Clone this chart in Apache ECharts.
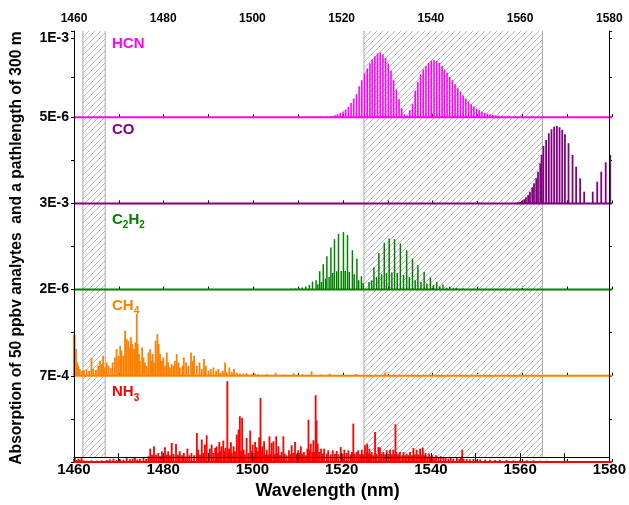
<!DOCTYPE html>
<html><head><meta charset="utf-8">
<script src="https://cdn.jsdelivr.net/npm/echarts@6/dist/echarts.min.js"></script>
<style>html,body{margin:0;padding:0;background:#fff}#c{width:629px;height:505px}</style>
</head><body><div id="c"></div>
<script>
// ---------------- data ----------------
const xTicks = [1460, 1480, 1500, 1520, 1540, 1560, 1580];
const hatchRanges = [[1462, 1467], [1525, 1565]];
const yTickLabels = [
  {'0': '5E-6', '1': '1E-3'},
  {'0': '3E-3'},
  {'0': '2E-6'},
  {'0': '7E-4'},
  {}
];
const hcnLines = [[1512.0,0.006],[1513.5,0.008],[1515.0,0.010],[1516.5,0.012],[1517.6,0.013],[1518.2,0.025],[1518.8,0.038],[1519.4,0.055],[1520.0,0.072],[1520.6,0.097],[1521.2,0.131],[1521.8,0.181],[1522.4,0.236],[1523.0,0.291],[1523.6,0.392],[1524.2,0.468],[1524.8,0.553],[1525.4,0.616],[1526.0,0.679],[1526.5,0.730],[1527.1,0.772],[1527.7,0.806],[1528.3,0.819],[1528.9,0.797],[1529.5,0.747],[1530.1,0.679],[1530.7,0.586],[1531.3,0.468],[1531.9,0.350],[1532.5,0.228],[1533.1,0.110],[1533.7,0.038],
 [1534.3,0.021],[1534.9,0.089],[1535.5,0.165],[1536.1,0.333],[1536.7,0.447],[1537.3,0.544],[1537.9,0.603],[1538.5,0.646],[1539.1,0.688],[1539.7,0.713],[1540.3,0.722],[1540.9,0.713],[1541.5,0.688],[1542.1,0.646],[1542.6,0.603],[1543.2,0.561],[1543.8,0.511],[1544.4,0.468],[1545.0,0.418],[1545.6,0.367],[1546.2,0.321],[1546.8,0.274],[1547.4,0.232],[1548.0,0.198],[1548.6,0.165],[1549.2,0.135],[1549.8,0.110],[1550.4,0.089],[1551.0,0.072],[1551.6,0.055],[1552.2,0.046],[1552.8,0.038],[1553.4,0.030],[1554.0,0.021],[1554.6,0.017]];
const coLines = [[1558.6,0.008],[1559.0,0.012],[1559.5,0.019],[1559.9,0.031],[1560.4,0.047],[1560.8,0.070],[1561.3,0.097],[1561.7,0.136],[1562.2,0.186],[1562.6,0.233],[1563.1,0.291],[1563.5,0.368],[1564.0,0.465],[1564.3,0.562],[1564.7,0.667],[1565.3,0.736],[1565.9,0.814],[1566.5,0.860],[1567.1,0.891],[1567.7,0.899],[1568.3,0.884],[1568.9,0.853],[1569.5,0.802],[1570.3,0.698],[1571.2,0.562],[1572.0,0.426],[1572.9,0.291],[1573.8,0.136],[1575.7,0.136],[1576.7,0.252],[1577.6,0.368],[1578.6,0.477],[1579.6,0.562]];
const c2h2Lines = [[1506.5,0.006],[1507.5,0.008],[1508.5,0.010],[1509.4,0.012],[1510.2,0.016],[1510.9,0.023],[1511.7,0.035],[1512.5,0.054],[1513.2,0.093],[1514.0,0.109],[1514.8,0.213],[1515.6,0.295],[1516.4,0.388],[1517.3,0.488],[1518.1,0.585],[1519.0,0.647],[1520.1,0.667],[1521.0,0.632],[1522.1,0.457],[1523.1,0.360],[1524.1,0.155],
 [1525.8,0.089],[1526.9,0.256],[1528.0,0.426],[1529.2,0.543],[1530.3,0.593],[1531.5,0.585],[1532.8,0.535],[1534.2,0.457],[1535.5,0.360],[1536.7,0.283],[1538.1,0.205],[1539.5,0.140],[1540.9,0.089],[1542.3,0.058],[1543.8,0.035],[1545.3,0.019],[1546.8,0.012],
 [1514.4,0.062],[1515.2,0.089],[1516.1,0.128],[1516.9,0.147],[1517.7,0.194],[1518.6,0.213],[1519.6,0.217],[1520.5,0.217],[1521.4,0.205],[1522.5,0.178],[1523.5,0.109],[1524.5,0.078],
 [1526.4,0.109],[1527.5,0.147],[1528.6,0.178],[1529.7,0.194],[1530.9,0.198],[1532.1,0.194],[1533.5,0.167],[1534.8,0.147],[1536.1,0.109],[1537.4,0.089],[1538.7,0.070],[1540.2,0.050],[1541.6,0.039],[1543.1,0.023],[1544.6,0.016],[1548.7,0.008],[1550.2,0.008]];
const ch4Spectrum = [[1460.0,0.48],[1460.15,0.48],[1460.45,0.31],[1460.75,0.155],[1461.0,0.116],[1461.3,0.078],[1461.8,0.058],[1462.2,0.066],[1462.8,0.074],[1463.4,0.058],[1463.9,0.21],[1464.3,0.078],[1464.9,0.066],[1465.4,0.116],[1465.8,0.174],[1466.2,0.136],[1466.5,0.233],[1466.9,0.097],[1467.3,0.155],[1467.7,0.116],[1468.2,0.089],[1468.6,0.155],[1469.1,0.213],[1469.5,0.31],[1469.9,0.233],[1470.3,0.349],[1470.6,0.291],[1471.0,0.233],[1471.4,0.523],[1471.75,0.426],[1472.1,0.407],[1472.5,0.329],[1472.7,0.446],[1473.0,0.368],[1473.4,0.31],[1473.7,0.388],[1474.0,0.717],[1474.2,0.368],[1474.5,0.252],[1474.7,0.174],[1475.2,0.329],[1475.5,0.213],[1475.8,0.155],[1476.2,0.116],[1476.6,0.271],[1477.0,0.31],[1477.2,0.174],[1477.55,0.252],[1477.85,0.155],[1478.2,0.407],[1478.6,0.484],[1478.9,0.368],[1479.2,0.252],[1479.6,0.174],[1479.9,0.213],[1480.3,0.116],[1480.7,0.271],[1481.0,0.155],[1481.4,0.097],[1481.8,0.136],[1482.2,0.116],[1482.5,0.174],[1482.9,0.252],[1483.3,0.155],[1483.6,0.097],[1484.2,0.116],[1484.5,0.213],[1485.0,0.155],[1485.5,0.116],[1486.1,0.271],[1486.5,0.174],[1486.8,0.233],[1487.4,0.116],[1488.0,0.155],[1488.5,0.078],[1489.0,0.194],[1489.4,0.116],[1490.0,0.058],[1490.5,0.078],[1491.1,0.097],[1491.7,0.058],[1492.2,0.078],[1492.7,0.039],[1493.2,0.058],[1493.7,0.155],[1494.1,0.039],[1494.65,0.097],[1495.2,0.047],[1495.7,0.078],[1496.3,0.039],[1497.0,0.027],[1497.8,0.027],[1498.5,0.031],[1499.6,0.019],[1500.4,0.027],[1501.1,0.019],
 [1503.0,0.02],[1505.0,0.035],[1507.0,0.015],[1509.0,0.03],[1511.0,0.02],[1513.0,0.05],[1515.0,0.015],[1517.0,0.025],[1520.0,0.012],[1523.0,0.02],[1526.0,0.01],[1529.4,0.04],[1532.0,0.01],[1540.0,0.012],[1550.0,0.008],[1560.0,0.01],[1570.0,0.008],[1580.0,0.01]];
const nh3Spectrum = [[1460.0,0.039],[1460.2,0.054],[1460.6,0.023],[1461.0,0.039],[1461.3,0.023],[1461.7,0.054],[1462.1,0.019],[1462.8,0.016],[1463.9,0.019],[1465.1,0.016],[1466.2,0.019],[1467.3,0.023],[1468.0,0.031],[1468.8,0.039],[1469.5,0.023],[1470.3,0.031],[1471.0,0.027],[1471.75,0.054],[1472.5,0.031],[1473.1,0.039],[1473.6,0.047],[1474.1,0.027],[1474.7,0.039],[1475.5,0.054],[1476.1,0.035],[1476.6,0.066],[1477.0,0.155],[1477.4,0.085],[1477.85,0.182],[1478.3,0.085],[1478.8,0.105],[1479.2,0.066],[1479.6,0.124],[1479.9,0.078],[1480.3,0.171],[1480.7,0.085],[1481.0,0.124],[1481.4,0.078],[1481.8,0.221],[1482.2,0.093],[1482.75,0.209],[1483.2,0.085],[1483.6,0.124],[1484.1,0.078],[1484.5,0.105],[1484.9,0.066],[1485.3,0.155],[1485.7,0.078],[1486.2,0.105],[1486.8,0.078],[1487.4,0.337],[1487.7,0.143],[1488.1,0.085],[1488.5,0.26],[1488.85,0.105],[1489.2,0.202],[1489.6,0.31],[1490.0,0.105],[1490.3,0.155],[1490.7,0.202],[1491.1,0.105],[1491.5,0.163],[1491.8,0.182],[1492.1,0.105],[1492.4,0.233],[1492.7,0.124],[1492.9,0.182],[1493.3,0.248],[1493.6,0.124],[1493.8,0.163],[1494.2,0.938],[1494.4,0.105],[1494.6,0.155],[1495.0,0.229],[1495.2,0.105],[1495.6,0.182],[1495.9,0.124],[1496.3,0.318],[1496.7,0.376],[1496.9,0.124],[1497.0,0.531],[1497.25,0.124],[1497.5,0.512],[1497.85,0.143],[1498.1,0.085],[1498.5,0.279],[1498.9,0.105],[1499.3,0.364],[1499.6,0.124],[1499.85,0.202],[1500.2,0.105],[1500.4,0.233],[1500.7,0.171],[1501.0,0.124],[1501.3,0.287],[1501.5,0.124],[1501.6,0.744],[1501.9,0.124],[1502.0,0.182],[1502.4,0.24],[1502.7,0.085],[1503.0,0.143],[1503.3,0.085],[1503.6,0.298],[1503.9,0.093],[1504.1,0.221],[1504.5,0.24],[1504.8,0.093],[1505.1,0.298],[1505.4,0.105],[1505.6,0.182],
 [1505.95,0.078],[1506.3,0.116],[1506.7,0.298],[1507.0,0.097],[1507.4,0.078],[1507.95,0.136],[1508.3,0.089],[1508.55,0.194],[1508.9,0.105],[1509.3,0.233],[1509.7,0.097],[1510.0,0.136],[1510.4,0.105],[1510.6,0.182],[1510.9,0.097],[1511.3,0.116],[1511.75,0.078],[1512.05,0.155],[1512.3,0.492],[1512.5,0.136],[1512.8,0.213],[1513.2,0.116],[1513.4,0.252],[1513.7,0.116],[1513.9,0.775],[1514.1,0.484],[1514.35,0.213],[1514.7,0.116],[1515.1,0.155],[1515.5,0.097],[1515.8,0.155],[1516.4,0.097],[1516.7,0.136],[1517.25,0.089],[1517.7,0.136],[1518.2,0.097],[1518.6,0.128],[1519.0,0.089],[1519.5,0.174],[1519.9,0.097],[1520.3,0.143],[1520.8,0.105],[1521.2,0.136],[1521.7,0.089],[1522.0,0.116],[1522.3,0.446],[1522.6,0.097],[1523.05,0.116],[1523.4,0.136],[1523.8,0.089],[1524.2,0.143],[1524.5,0.089],[1524.9,0.194],[1525.3,0.116],[1525.4,0.213],[1525.7,0.097],[1525.9,0.155],[1526.2,0.089],[1526.4,0.116],[1526.8,0.078],[1527.15,0.349],[1527.4,0.097],[1527.9,0.174],[1528.25,0.167],[1528.6,0.097],[1529.0,0.116],[1529.4,0.089],[1529.75,0.136],[1530.1,0.097],[1530.5,0.143],[1530.9,0.089],[1531.2,0.143],[1531.5,0.089],[1531.7,0.438],[1531.9,0.116],[1532.3,0.089],[1532.7,0.116],[1533.2,0.078],[1533.5,0.116],[1533.9,0.078],[1534.2,0.097],[1534.65,0.078],[1534.95,0.116],[1535.4,0.078],[1535.7,0.163],[1536.0,0.089],[1536.4,0.143],[1536.8,0.089],[1537.2,0.155],[1537.5,0.078],[1537.8,0.167],[1538.1,0.078],[1538.4,0.105],[1538.8,0.066],[1539.2,0.097],[1539.55,0.066],[1539.9,0.078],[1540.3,0.058],[1540.75,0.078],[1541.3,0.058],[1541.8,0.066],[1542.4,0.05],[1542.9,0.058],[1543.5,0.039],[1544.0,0.05],[1544.6,0.039],[1545.4,0.047],[1545.95,0.035],[1546.3,0.05],[1546.6,0.143],[1546.9,0.039],[1547.6,0.035],[1548.3,0.031],[1549.1,0.035],[1549.8,0.027],[1550.6,0.031],[1551.7,0.027],[1552.8,0.027],[1553.9,0.023],[1555.0,0.027],[1556.5,0.023],[1558.0,0.019],[1559.5,0.023],[1561.0,0.019],[1562.5,0.019],[1564.0,0.016],[1565.4,0.016],[1567.7,0.012],[1569.9,0.016],[1572.9,0.012],[1575.8,0.012],[1580.0,0.012]];

// ---------------- chart ----------------
const FONT = '"Liberation Sans", Arial, Helvetica, sans-serif';
const X0 = 1460, X1 = 1580;
const LEFT = 74, RIGHT = 17, TOP = 31, PH = 86.2;
const panels = [
  {color: '#FF00FF', data: hcnLines, lw: 1.6, max: 1.09, title: '{a|HCN}'},
  {color: '#800080', data: coLines, lw: 1.8, max: 1, title: '{a|CO}'},
  {color: '#008000', data: c2h2Lines, lw: 1.5, max: 1, title: '{a|C}{s|2}{a|H}{s|2}'},
  {color: '#FF8000', data: ch4Spectrum, lw: 1.8, max: 1, title: '{a|CH}{s|4}'},
  {color: '#FF0000', data: nh3Spectrum, lw: 1.8, max: 1, title: '{a|NH}{s|3}'}
];

function makeHatch() {
  const c = document.createElement('canvas');
  c.width = 6; c.height = 6;
  const g = c.getContext('2d');
  g.strokeStyle = '#bcbcbc'; g.lineWidth = 1;
  g.beginPath();
  g.moveTo(0, 6); g.lineTo(6, 0);
  g.moveTo(-1, 1); g.lineTo(1, -1);
  g.moveTo(5, 7); g.lineTo(7, 5);
  g.stroke();
  return c;
}
const hatchImg = makeHatch();

const grid = [{left: LEFT, right: RIGHT, top: TOP, height: PH * 5}];
const xAxis = [
  {gridIndex: 0, type: 'value', position: 'top', min: X0, max: X1, interval: 10, z: 10,
   axisLine: {show: true, lineStyle: {color: '#000', width: 1}},
   axisTick: {show: true, inside: true, length: 4, lineStyle: {color: '#000'}},
   axisLabel: {formatter: v => (xTicks.includes(v) ? String(v) : ''), fontFamily: FONT, fontWeight: 'bold', fontSize: 12, color: '#000', margin: 6},
   splitLine: {show: false}},
  {gridIndex: 0, type: 'value', position: 'bottom', min: X0, max: X1, interval: 10, z: 10,
   axisLine: {show: true, lineStyle: {color: '#000', width: 1}},
   axisTick: {show: true, inside: true, length: 4, lineStyle: {color: '#000'}},
   axisLabel: {formatter: v => (xTicks.includes(v) ? String(v) : ''), fontFamily: FONT, fontWeight: 'bold', fontSize: 15, color: '#000', margin: 5},
   splitLine: {show: false},
   name: 'Wavelength (nm)', nameLocation: 'middle', nameGap: 24,
   nameTextStyle: {fontFamily: FONT, fontWeight: 'bold', fontSize: 18, color: '#000', padding: [0, 28, 0, 0]}}
];
const yAxis = [
  {gridIndex: 0, type: 'value', position: 'left', min: 0, max: 1, z: 10,
   axisLine: {show: true, lineStyle: {color: '#000', width: 1}}, axisTick: {show: false}, axisLabel: {show: false}, splitLine: {show: false},
   name: 'Absorption of 50 ppbv analytes  and a pathlength of 300 m', nameLocation: 'middle', nameRotate: 90, nameGap: 49,
   nameTextStyle: {fontFamily: FONT, fontWeight: 'bold', fontSize: 15.6, color: '#000', padding: [0, 8, 0, 0]}},
  {gridIndex: 0, type: 'value', position: 'right', min: 0, max: 1, z: 10,
   axisLine: {show: true, lineStyle: {color: '#000', width: 1}}, axisTick: {show: false}, axisLabel: {show: false}, splitLine: {show: false}}
];
const title = [];
const series = [{
  type: 'custom', name: 'hatch', xAxisIndex: 0, yAxisIndex: 0, z: 1, silent: true,
  data: hatchRanges,
  encode: {x: [0, 1]},
  renderItem: function (params, api) {
    const a = api.coord([api.value(0), 1]);
    const b = api.coord([api.value(1), 0]);
    return {type: 'group', children: [
      {type: 'rect', shape: {x: a[0], y: a[1], width: b[0] - a[0], height: b[1] - a[1]}, style: {fill: {image: hatchImg, repeat: 'repeat'}}},
      {type: 'line', shape: {x1: a[0], y1: a[1], x2: a[0], y2: b[1]}, style: {stroke: '#a8a8a8', lineWidth: 1}},
      {type: 'line', shape: {x1: b[0], y1: a[1], x2: b[0], y2: b[1]}, style: {stroke: '#a8a8a8', lineWidth: 1}}
    ]};
  }
}];

panels.forEach((p, i) => {
  const gi = i + 1;
  const top = TOP + PH * i;
  grid.push({left: LEFT, right: RIGHT, top: top, height: PH});
  const xi = xAxis.length;
  xAxis.push({gridIndex: gi, type: 'value', min: X0, max: X1, interval: 10, position: 'bottom',
    axisLine: {show: false}, axisTick: {show: true, inside: true, length: 3, lineStyle: {color: '#000'}},
    axisLabel: {show: false}, splitLine: {show: false}});
  const yi = yAxis.length;
  const labs = yTickLabels[i];
  yAxis.push({gridIndex: gi, type: 'value', position: 'left', min: 0, max: p.max, interval: 0.5,
    axisLine: {show: false}, axisTick: {show: true, length: 3, lineStyle: {color: '#000'}},
    axisLabel: {showMinLabel: true, showMaxLabel: true, formatter: v => labs[String(Math.round(v * 100) / 100)] || '',
      fontFamily: FONT, fontWeight: 'bold', fontSize: 14, color: '#000', margin: 5},
    splitLine: {show: false}});
  yAxis.push({gridIndex: gi, type: 'value', position: 'right', min: 0, max: p.max, interval: 0.5,
    axisLine: {show: false}, axisTick: {show: true, inside: true, length: 3, lineStyle: {color: '#000'}},
    axisLabel: {show: false}, splitLine: {show: false}});

  series.push({
    type: 'custom', xAxisIndex: xi, yAxisIndex: yi, z: 3, silent: true, data: p.data,
    encode: {x: 0, y: 1},
    renderItem: function (params, api) {
      const b = api.coord([api.value(0), 0]);
      const t = api.coord([api.value(0), api.value(1)]);
      return {type: 'line', shape: {x1: b[0], y1: b[1], x2: t[0], y2: t[1]}, style: {stroke: p.color, lineWidth: p.lw}};
    }
  });
  series.push({
    type: 'line', xAxisIndex: xi, yAxisIndex: yi, z: 4, silent: true, clip: false,
    data: [[X0, 0], [X1, 0]], symbol: 'none', lineStyle: {color: p.color, width: 2}
  });

  title.push({
    text: p.title, left: 112, top: top + 5, padding: 0,
    textStyle: {rich: {
      a: {fontFamily: FONT, fontWeight: 'bold', fontSize: 15, color: p.color, lineHeight: 15, verticalAlign: 'middle'},
      s: {fontFamily: FONT, fontWeight: 'bold', fontSize: 10, color: p.color, lineHeight: 22, verticalAlign: 'bottom'}
    }}
  });
});

const chart = echarts.init(document.getElementById('c'), null, {renderer: 'canvas'});
chart.setOption({animation: false, backgroundColor: '#fff', title, grid, xAxis, yAxis, series});
</script></body></html>
